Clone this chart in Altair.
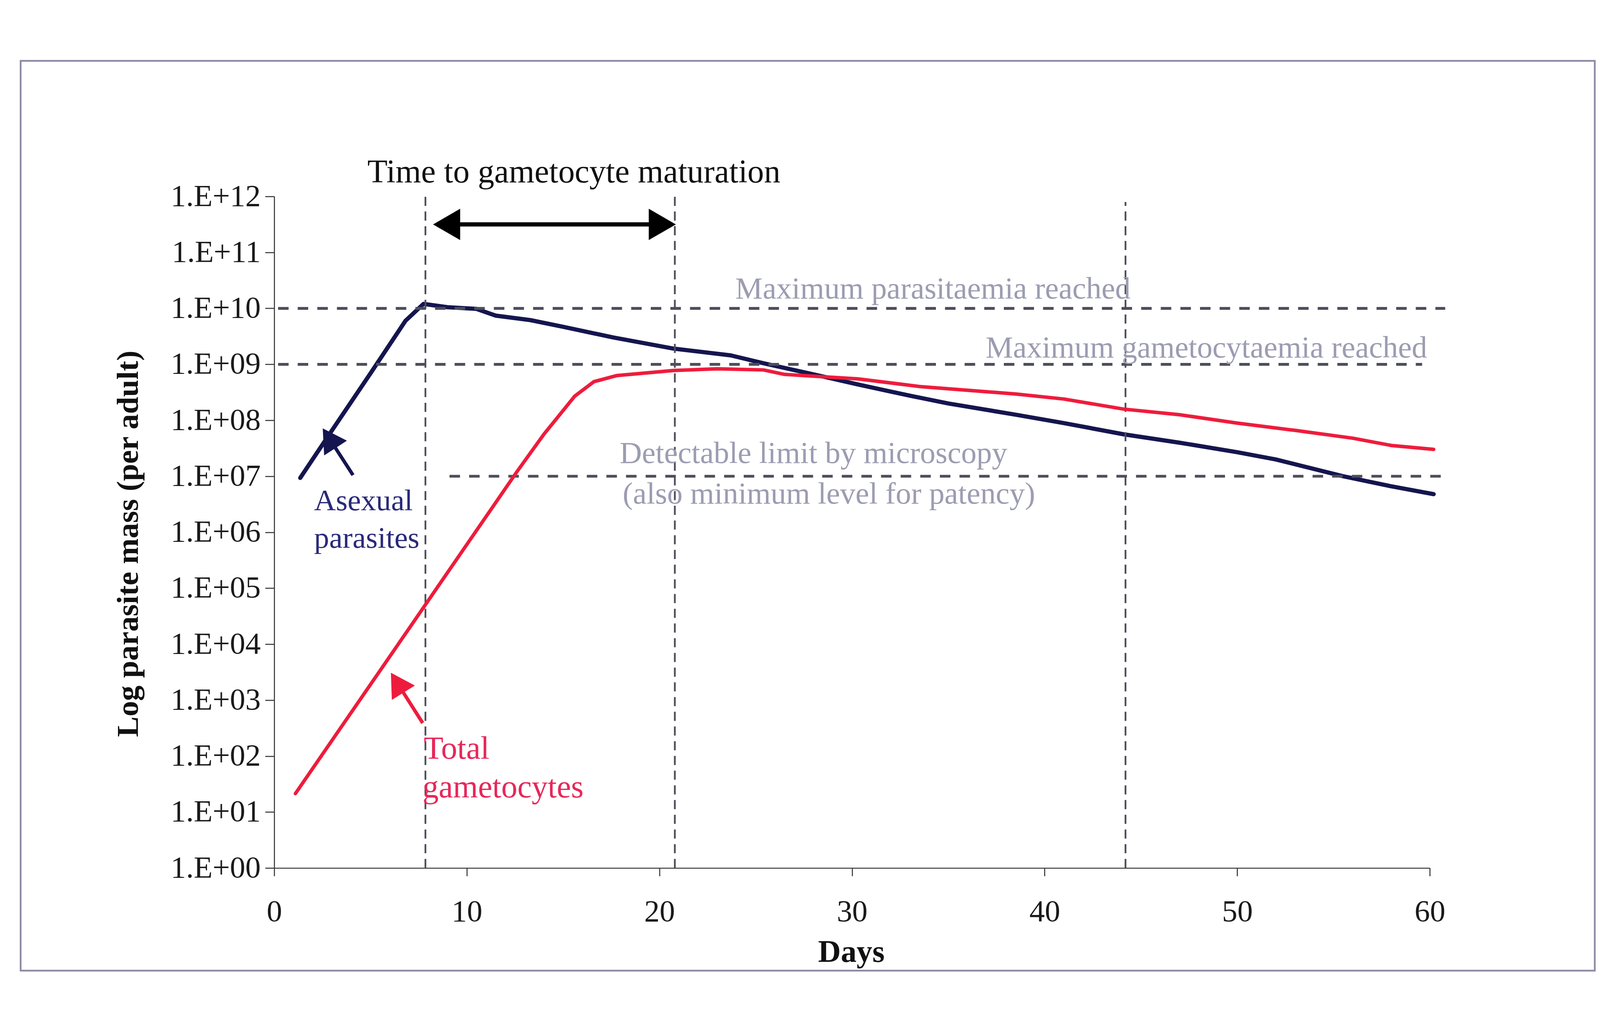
import altair as alt
import pandas as pd

# ---------------- data (day, log10 parasite mass per adult) ----------------
asexual_days = [1.35, 3, 5, 6.82, 7.75, 9, 10.5, 11.5, 13.3, 15, 17.6, 20.75, 23.7,
                25.4, 28, 30.3, 33, 35, 38.5, 41, 44.1, 47, 50, 52, 55.5, 58, 60.2]
asexual_log = [6.97, 7.82, 8.84, 9.78, 10.08, 10.02, 9.99, 9.87, 9.79, 9.67, 9.48, 9.28, 9.16,
               9.02, 8.82, 8.64, 8.44, 8.30, 8.10, 7.95, 7.75, 7.60, 7.43, 7.30, 7.00, 6.82, 6.68]

gam_days = [1.1, 4, 7, 10, 12.6, 14, 15.6, 16.6, 17.8, 20.75, 23, 25.4, 26.5, 30.3,
            33.6, 38.5, 41, 44.1, 47, 50, 53, 56, 58, 60.2]
gam_log = [1.33, 2.78, 4.28, 5.78, 7.08, 7.75, 8.43, 8.69, 8.80, 8.89, 8.92, 8.90, 8.82, 8.74,
           8.60, 8.47, 8.38, 8.20, 8.10, 7.95, 7.82, 7.68, 7.55, 7.48]

x_ticks = [0, 10, 20, 30, 40, 50, 60]
y_ticks = list(range(13))

# horizontal reference levels (log10)
ref_levels = [10, 9, 7]
ref_start = [0.2, 0.2, 9.1]
ref_end = [60.8, 59.6, 60.6]

# vertical reference days
vline_days = [7.85, 20.8, 44.2]
vline_top = [12, 12, 11.9]

# annotation texts
center_text = ["Time to gametocyte maturation", "Maximum parasitaemia reached",
               "Maximum gametocytaemia reached", "Detectable limit by microscopy",
               "(also minimum level for patency)"]
center_x = [15.56, 34.2, 48.4, 28.0, 28.8]
center_y = [12.25, 10.18, 9.12, 7.24, 6.51]

left_text = ["Asexual", "parasites", "Total", "gametocytes"]
left_x = [2.07, 2.07, 7.76, 7.70]
left_y = [6.39, 5.72, 1.95, 1.26]

# arrows: (x, y) -> (x2, y2)
arrow_x = [9.0, 4.09, 7.71]
arrow_y = [11.5, 7.02, 2.59]
arrow_x2 = [20.1, 2.85, 6.38]
arrow_y2 = [11.5, 7.68, 3.31]

head_x = [8.95, 20.15, 2.85, 6.38]
head_y = [11.5, 11.5, 7.68, 3.31]
head_shape = ["triangle-left", "triangle-right", "triangle-up", "triangle-up"]
head_angle = [0, 0, 327, 328]

# ---------------- styles ----------------
SERIF = "Liberation Serif"
NAVY = "#15154f"
RED = "#ee1c3c"
NAVY_TXT = "#2a2a7a"
RED_TXT = "#e6285a"
GRAY_LINE = "#4d4d5c"
GRAY_TXT = "#9c9cb2"
AXIS_COL = "#3a3a3a"

W, H = 3299, 1917

xs = alt.Scale(domain=[0, 60], nice=False, zero=False)
ys = alt.Scale(domain=[0, 12], nice=False, zero=False)

x_axis = alt.Axis(values=x_ticks, format="d", labelFont=SERIF, labelFontSize=88,
                  labelColor="#1a1a1a", labelPadding=58, labelFlush=False, labelOverlap=False,
                  labelLimit=1000,
                  tickSize=23, tickWidth=3, tickColor=AXIS_COL, domainColor=AXIS_COL,
                  domainWidth=3, grid=False, title="Days", titleFont=SERIF, titleFontSize=90,
                  titleFontWeight="bold", titleColor="#111111", titleX=1647, titleY=196,
                  titleBaseline="top", titleAlign="center", titleLimit=2000)

y_axis = alt.Axis(values=y_ticks,
                  labelExpr="'1.E+' + (datum.value < 10 ? '0' : '') + datum.value",
                  labelFont=SERIF, labelFontSize=88, labelColor="#1a1a1a", labelPadding=13,
                  labelOverlap=False, labelFlush=False, labelLimit=1000,
                  tickSize=26, tickWidth=3, tickColor=AXIS_COL, domainColor=AXIS_COL,
                  domainWidth=3, grid=False, title="Log parasite mass (per adult)",
                  titleFont=SERIF, titleFontSize=88, titleFontWeight="bold",
                  titleColor="#111111", titleX=-372, titleY=991, titleAngle=270,
                  titleBaseline="bottom", titleAlign="center", titleLimit=3000)


def X(field="x"):
    return alt.X(f"{field}:Q", scale=xs, axis=x_axis)


def Y(field="y"):
    return alt.Y(f"{field}:Q", scale=ys, axis=y_axis)


asex_df = pd.DataFrame({"x": asexual_days, "y": asexual_log})
gam_df = pd.DataFrame({"x": gam_days, "y": gam_log})

frame = alt.Chart(pd.DataFrame({"a": [0]})).mark_rect(
    fillOpacity=0, stroke="#8d8aa5", strokeWidth=5).encode(
    x=alt.value(-724), x2=alt.value(3770), y=alt.value(-387), y2=alt.value(2210))

href = alt.Chart(pd.DataFrame({"x": ref_start, "x2": ref_end, "y": ref_levels})).mark_rule(
    color=GRAY_LINE, strokeWidth=8, strokeDash=[30, 26]).encode(
    x=X(), x2="x2:Q", y=Y())

vref = alt.Chart(pd.DataFrame({"x": vline_days, "y": [0] * len(vline_days), "y2": vline_top})).mark_rule(
    color=GRAY_LINE, strokeWidth=5, strokeDash=[26, 16]).encode(
    x=X(), y=Y(), y2="y2:Q")

asex = alt.Chart(asex_df).mark_line(color=NAVY, strokeWidth=12, strokeJoin="round",
                                    strokeCap="round").encode(x=X(), y=Y())

gam = alt.Chart(gam_df).mark_line(color=RED, strokeWidth=10, strokeJoin="round",
                                  strokeCap="round").encode(x=X(), y=Y())

arrows_df = pd.DataFrame({"x": arrow_x, "y": arrow_y, "x2": arrow_x2, "y2": arrow_y2,
                          "c": ["#000000", NAVY, RED], "w": [12, 10, 10]})
arrows = alt.Chart(arrows_df).mark_rule(strokeCap="butt").encode(
    x=X(), y=Y(), x2="x2:Q", y2="y2:Q",
    color=alt.Color("c:N", scale=None), strokeWidth=alt.StrokeWidth("w:Q", scale=None))

heads_df = pd.DataFrame({"x": head_x, "y": head_y, "shape": head_shape, "angle": head_angle,
                         "c": ["#000000", "#000000", NAVY, RED],
                         "s": [8000, 8000, 6000, 6000]})
heads = alt.Chart(heads_df).mark_point(filled=True, opacity=1, strokeWidth=0).encode(
    x=X(), y=Y(),
    shape=alt.Shape("shape:N", scale=None), angle=alt.Angle("angle:Q", scale=None),
    color=alt.Color("c:N", scale=None), size=alt.Size("s:Q", scale=None))

ctext_df = pd.DataFrame({"t": center_text, "x": center_x, "y": center_y,
                         "c": ["#111111", GRAY_TXT, GRAY_TXT, GRAY_TXT, GRAY_TXT],
                         "s": [94, 88, 88, 88, 88]})
ctext = alt.Chart(ctext_df).mark_text(font=SERIF, align="center", baseline="alphabetic").encode(
    x=X(), y=Y(), text="t:N", color=alt.Color("c:N", scale=None),
    size=alt.Size("s:Q", scale=None))

ltext_df = pd.DataFrame({"t": left_text, "x": left_x, "y": left_y,
                         "c": [NAVY_TXT, NAVY_TXT, RED_TXT, RED_TXT],
                         "s": [86, 86, 92, 92]})
ltext = alt.Chart(ltext_df).mark_text(font=SERIF, align="left", baseline="alphabetic").encode(
    x=X(), y=Y(), text="t:N", color=alt.Color("c:N", scale=None),
    size=alt.Size("s:Q", scale=None))

chart = alt.layer(asex, frame, href, vref, gam, arrows, heads, ctext, ltext).properties(
    width=W, height=H,
    padding={"left": 774, "top": 401, "right": 477, "bottom": 300},
    autosize=alt.AutoSizeParams(type="none"),
    background="white",
).configure_view(stroke=None)

chart.save("out.html", embed_options={"renderer": "svg", "actions": False})
